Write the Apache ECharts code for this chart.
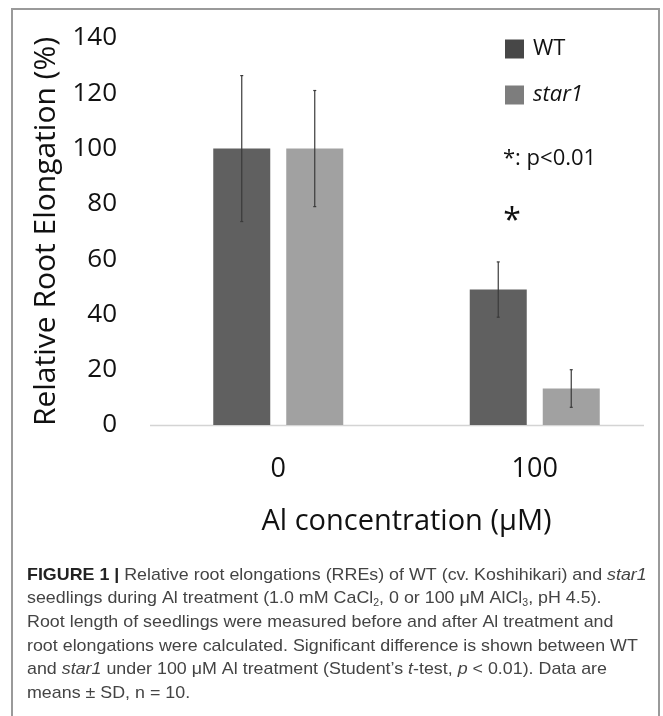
<!DOCTYPE html>
<html>
<head>
<meta charset="utf-8">
<script src="https://cdn.jsdelivr.net/npm/echarts@6/dist/echarts.min.js"></script>
<style>html,body{margin:0;padding:0;background:#fff;}#c{width:663px;height:716px;}</style>
</head>
<body>
<div id="c"></div>
<script>
const categories = ['0', '100'];
const seriesNames = ['WT', 'star1'];
const wtMean = [100, 49];
const wtSD = [26.4, 10];
const starMean = [100, 13.2];
const starSD = [21, 6.8];
const yMin = 0, yMax = 140, yStep = 20;

const BAR_W = 57, BAR_GAP_PX = 16;
const HALF = (BAR_W + BAR_GAP_PX) / 2;

function errData(means, sds) {
  return means.map((m, i) => [i, m, sds[i]]);
}
function errRender(offset) {
  return function (params, api) {
    const idx = api.value(0), m = api.value(1), sd = api.value(2);
    const c = api.coord([idx, m]);
    const x = c[0] + offset;
    const top = api.coord([idx, m + sd])[1];
    const bot = api.coord([idx, m - sd])[1];
    const st = { stroke: '#3a3a3a', lineWidth: 1.2 };
    return {
      type: 'group',
      children: [
        { type: 'line', shape: { x1: x, y1: top, x2: x, y2: bot }, style: st },
        { type: 'line', shape: { x1: x - 1.5, y1: top, x2: x + 1.5, y2: top }, style: st },
        { type: 'line', shape: { x1: x - 1.5, y1: bot, x2: x + 1.5, y2: bot }, style: st }
      ]
    };
  };
}

const captionFont = 'Liberation Sans';
const caption =
  '{b|FIGURE 1 |} Relative root elongations (RREs) of WT (cv. Koshihikari) and {i|star1}\n' +
  'seedlings during Al treatment (1.0 mM CaCl{s|2}, 0 or 100 μM AlCl{s|3}, pH 4.5).\n' +
  'Root length of seedlings were measured before and after Al treatment and\n' +
  'root elongations were calculated. Significant difference is shown between WT\n' +
  'and {i|star1} under 100 μM Al treatment (Student’s {i|t}-test, {i|p} < 0.01). Data are\n' +
  'means ± SD, n = 10.';

const chart = echarts.init(document.getElementById('c'), null, { renderer: 'canvas' });
chart.setOption({
  animation: false,
  backgroundColor: '#fff',
  grid: { left: 150, top: 38, width: 515, bottom: 291, containLabel: false },
  legend: {
    orient: 'vertical', left: 505, top: 38, padding: 0,
    itemWidth: 19, itemHeight: 19, itemGap: 24,
    icon: 'rect', selectedMode: false,
    textStyle: { fontFamily: 'Open Sans', fontSize: 22, color: '#111', lineHeight: 19, padding: [0, 0, 0, 4] },
    data: [
      { name: 'WT', itemStyle: { color: '#474747' } },
      { name: 'star1', itemStyle: { color: '#7d7d7d' }, textStyle: { fontStyle: 'italic' } }
    ]
  },
  xAxis: {
    type: 'category', data: categories,
    axisLine: { show: false }, axisTick: { show: false },
    axisLabel: { fontFamily: 'Open Sans', fontSize: 27, color: '#111', margin: 31 },
    name: 'Al concentration (μM)', nameLocation: 'middle', nameGap: 82,
    nameTextStyle: { fontFamily: 'Open Sans', fontSize: 29, color: '#111' }
  },
  yAxis: {
    type: 'value', min: yMin, max: yMax, interval: yStep,
    splitLine: { show: false }, axisLine: { show: false }, axisTick: { show: false },
    axisLabel: { fontFamily: 'Open Sans', fontSize: 26, color: '#111', margin: 33 },
    name: 'Relative Root Elongation (%)', nameLocation: 'middle', nameGap: 89, nameRotate: 90,
    nameTextStyle: { fontFamily: 'Open Sans', fontSize: 30, color: '#111' }
  },
  series: [
    { name: 'WT', type: 'bar', data: wtMean, barWidth: BAR_W, barGap: (BAR_GAP_PX / BAR_W * 100) + '%',
      itemStyle: { color: '#606060' } },
    { name: 'star1', type: 'bar', data: starMean, barWidth: BAR_W,
      itemStyle: { color: '#a1a1a1' } },
    { type: 'custom', name: 'WT err', data: errData(wtMean, wtSD), renderItem: errRender(-HALF), z: 5,
      encode: { x: 0, y: 1 } },
    { type: 'custom', name: 'star1 err', data: errData(starMean, starSD), renderItem: errRender(HALF), z: 5,
      encode: { x: 0, y: 1 } }
  ],
  graphic: [
    { type: 'rect', shape: { x: 12, y: 9, width: 647, height: 730 }, style: { fill: 'none', stroke: '#9a9a9a', lineWidth: 2 }, z: 100 },
    { type: 'line', shape: { x1: 150, y1: 425.5, x2: 644, y2: 425.5 }, style: { stroke: '#d4d4d4', lineWidth: 1.5 } },
    { type: 'text', x: 503, y: 159, style: { text: '*: p<0.01', fontFamily: 'Open Sans', fontSize: 22, fill: '#111', textVerticalAlign: 'middle' } },
    { type: 'text', x: 512, y: 222, style: { text: '*', fontFamily: 'Open Sans', fontSize: 32, fill: '#111', textAlign: 'center', textVerticalAlign: 'middle' } },
    { type: 'text', x: 27, y: 563, scaleX: 1.05, style: {
        text: caption, fontFamily: captionFont, fontSize: 17, lineHeight: 23.7, fill: '#444',
        rich: {
          b: { fontFamily: captionFont, fontSize: 17, lineHeight: 23.7, fontWeight: 'bold', fill: '#222' },
          i: { fontFamily: captionFont, fontSize: 17, lineHeight: 23.7, fontStyle: 'italic', fill: '#444' },
          s: { fontFamily: captionFont, fontSize: 10, lineHeight: 23.7, padding: [10, 0, 0, 0], fill: '#444' }
        }
      } }
  ]
});
</script>
</body>
</html>
